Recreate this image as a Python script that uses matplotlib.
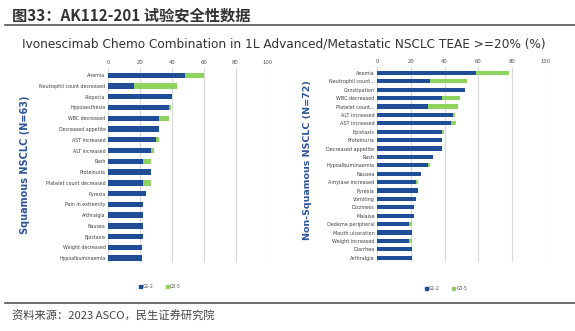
import matplotlib
matplotlib.use("Agg")
import matplotlib.pyplot as plt
from matplotlib.patches import Patch
from matplotlib.lines import Line2D

plt.rcParams['font.family'] = ['Noto Sans CJK SC', 'DejaVu Sans']

# Squamous NSCLC (N=63)
sq_events = ["Anemia", "Neutrophil count decreased", "Alopecia", "Hypoaesthesia",
             "WBC decreased", "Decreased appetite", "AST increased", "ALT increased",
             "Rash", "Proteinuria", "Platelet count decreased", "Pyrexia",
             "Pain in extremity", "Arthralgia", "Nausea", "Epistaxis",
             "Weight decreased", "Hypoalbuminaemia"]
sq_g12 = [48, 16, 40, 38, 32, 32, 30, 27, 22, 27, 22, 24, 22, 22, 22, 22, 21, 21]
sq_g35 = [12, 27, 0, 1.6, 6, 0, 1.6, 1.6, 5, 0, 5, 0, 0, 0, 0, 0, 0, 0]

# Non-squamous NSCLC (N=72)
nsq_events = ["Anemia", "Neutrophil count...", "Constipation", "WBC decreased",
              "Platelet count...", "ALT increased", "AST increased", "Epistaxis",
              "Proteinuria", "Decreased appetite", "Rash", "Hypoalbuminaemia",
              "Nausea", "Amylase increased", "Pyrexia", "Vomiting", "Dizziness",
              "Malaise", "Oedema peripheral", "Mouth ulceration", "Weight increased",
              "Diarrhea", "Arthralgia"]
nsq_g12 = [59, 31.5, 52, 38.5, 30, 45, 44, 38.5, 38.5, 38.5, 33, 30, 26, 23,
           24.5, 23, 22, 22, 19, 20.5, 19, 20.5, 20.5]
nsq_g35 = [19.5, 22, 0, 11, 18, 1.4, 2.8, 1.4, 0, 0, 0, 1.4, 0, 1.4,
           0, 0, 0, 0, 1.4, 0, 1.4, 0, 0]

x_ticks = [0, 20, 40, 60, 80, 100]
series_names = ["G1-2", "G3-5"]

BLUE = "#1f4e96"
GREEN = "#8fd35f"
LABEL_BLUE = "#2f5597"
W, H = 575, 331

fig = plt.figure(figsize=(W / 100, H / 100), dpi=100)


def px_axes(x0, x1, y_top, y_bot):
    return fig.add_axes([x0 / W, 1 - y_bot / H, (x1 - x0) / W, (y_bot - y_top) / H])


def draw_panel(ax, events, g12, g35, ylim, bar_h, label_fs):
    ypos = list(range(len(events)))
    ax.barh(ypos, g12, height=bar_h, color=BLUE, zorder=3)
    ax.barh(ypos, g35, left=g12, height=bar_h, color=GREEN, zorder=3)
    ax.set_xlim(0, 100)
    ax.set_ylim(*ylim)
    ax.set_yticks(ypos)
    ax.set_yticklabels(events, fontsize=label_fs, color="#404040",
                       family=['DejaVu Sans'])
    ax.set_xticks(x_ticks)
    ax.set_xticklabels([str(t) for t in x_ticks], fontsize=3.8, color="#505050",
                       family=['DejaVu Sans'])
    ax.xaxis.tick_top()
    ax.tick_params(length=0, pad=2)
    ax.grid(axis="x", color="#d9d9d9", linewidth=0.8, zorder=0)
    for s in ax.spines.values():
        s.set_visible(False)


axL = px_axes(108.3, 267.3, 68, 263)
draw_panel(axL, sq_events, sq_g12, sq_g35,
           (len(sq_events) - 0.55, -0.67), 0.5, 3.4)

axR = px_axes(377.3, 545.3, 67, 262)
draw_panel(axR, nsq_events, nsq_g12, nsq_g35,
           (len(nsq_events) - 0.5, -0.7), 0.5, 3.5)

# Panel labels
fig.text(25 / W, 1 - 165 / H, "Squamous NSCLC (N=63)", rotation=90,
         ha="center", va="center", fontsize=7.0, color=LABEL_BLUE,
         fontweight="bold", family=['DejaVu Sans'])
fig.text(308 / W, 1 - 160 / H, "Non-Squamous NSCLC (N=72)", rotation=90,
         ha="center", va="center", fontsize=6.8, color=LABEL_BLUE,
         fontweight="bold", family=['DejaVu Sans'])

# Legends
handles = [Patch(color=BLUE), Patch(color=GREEN)]
for cx, cy in [(160 / W, 1 - 287 / H), (446 / W, 1 - 289 / H)]:
    fig.legend(handles, series_names, loc="center", bbox_to_anchor=(cx, cy),
               ncol=2, frameon=False, fontsize=3.6, handlelength=0.5,
               handleheight=0.5, handletextpad=0.3, columnspacing=2.5,
               labelcolor="#505050")

# Header
fig.text(12 / W, 1 - 15 / H, "图33：AK112-201 试验安全性数据", ha="left",
         va="center", fontsize=11, fontweight="bold", color="#333333")
fig.add_artist(Line2D([5 / W, 1], [1 - 25 / H, 1 - 25 / H], color="#555555",
                      linewidth=1.2))
fig.text(22 / W, 1 - 44 / H,
         "Ivonescimab Chemo Combination in 1L Advanced/Metastatic NSCLC TEAE >=20% (%)",
         ha="left", va="center", fontsize=8.7, color="#333333",
         family=['DejaVu Sans'])

# Footer
fig.add_artist(Line2D([5 / W, 1], [1 - 303 / H, 1 - 303 / H], color="#555555",
                      linewidth=1.2))
fig.text(12 / W, 1 - 316 / H, "资料来源：2023 ASCO，民生证券研究院", ha="left",
         va="center", fontsize=8.1, color="#444444")

fig.savefig("out.png", dpi=100, facecolor="white")
